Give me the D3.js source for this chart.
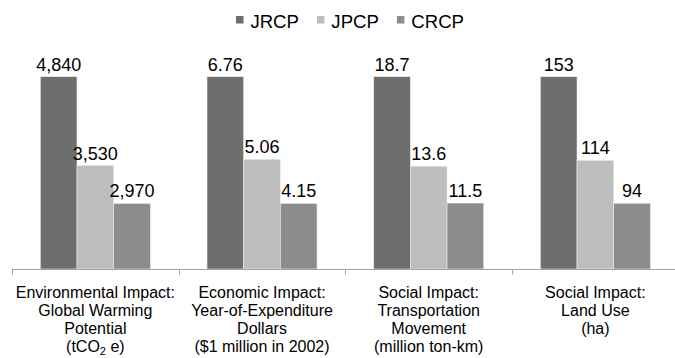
<!DOCTYPE html>
<html>
<head>
<meta charset="utf-8">
<script src="https://cdn.jsdelivr.net/npm/d3@7"></script>
<style>
  html, body { margin: 0; padding: 0; background: #ffffff; }
  svg { display: block; font-family: "Liberation Sans", Arial, Helvetica, sans-serif; }
</style>
</head>
<body>
<svg id="chart" width="675" height="358"></svg>
<script>
// Impact categories, each label split into its display lines ("₂" marks a subscript 2)
const categories = [
  ["Environmental Impact:", "Global Warming", "Potential", "(tCO₂ e)"],
  ["Economic Impact:", "Year-of-Expenditure", "Dollars", "($1 million in 2002)"],
  ["Social Impact:", "Transportation", "Movement", "(million ton-km)"],
  ["Social Impact:", "Land Use", "(ha)"]
];
const seriesNames = ["JRCP", "JPCP", "CRCP"];
const jrcp = [4840, 6.76, 18.7, 153];
const jpcp = [3530, 5.06, 13.6, 114];
const crcp = [2970, 4.15, 11.5, 94];
const valueFormats = [",.0f", ".2f", ".1f", ".0f"];
const seriesColors = ["#6e6e6e", "#bdbdbd", "#8c8c8c"];

const seriesValues = [jrcp, jpcp, crcp];
const W = 675, H = 358;
const plot = { left: 12, right: 678.7, top: 76.7, bottom: 269 };

const svg = d3.select("#chart");

// Each category has its own unit, so bars are compared relative to the category's largest value
const groups = categories.map((lines, i) => {
  const vals = seriesValues.map(s => s[i]);
  const max = d3.max(vals);
  return {
    key: "c" + i,
    lines,
    fmt: d3.format(valueFormats[i]),
    bars: seriesNames.map((name, j) => ({ name, value: vals[j], rel: vals[j] / max }))
  };
});

const keys = groups.map(g => g.key);

// Category slots between tick marks
const xSlot = d3.scaleBand().domain(keys).range([plot.left, plot.right]).padding(0);
// Bar cluster inside each slot
const x0 = d3.scaleBand().domain(keys).range([plot.left, plot.right])
  .paddingInner(0.34).paddingOuter(0.17);
const x1 = d3.scaleBand().domain(seriesNames).range([0, x0.bandwidth()]).padding(0);
const y = d3.scaleLinear().domain([0.414, 1]).range([plot.bottom, plot.top]);
const color = d3.scaleOrdinal().domain(seriesNames).range(seriesColors);

// Bars
const g = svg.selectAll("g.group").data(groups).join("g")
  .attr("class", "group")
  .attr("transform", d => `translate(${x0(d.key)},0)`);

g.selectAll("rect").data(d => d.bars).join("rect")
  .attr("x", d => x1(d.name))
  .attr("y", d => y(d.rel))
  .attr("width", x1.bandwidth())
  .attr("height", d => y.range()[0] - y(d.rel))
  .attr("fill", d => color(d.name))
  .attr("stroke", "#ececec")
  .attr("stroke-width", 0.6);

// Value labels above bars
g.each(function (gd) {
  d3.select(this).selectAll("text.val").data(gd.bars).join("text")
    .attr("class", "val")
    .attr("x", d => x1(d.name) + x1.bandwidth() / 2)
    .attr("y", d => y(d.rel) - 6)
    .attr("text-anchor", "middle")
    .attr("font-size", 18)
    .attr("fill", "#000")
    .text(d => gd.fmt(d.value));
});

// Category axis: baseline with ticks between categories
const axis = svg.append("g").attr("class", "x-axis");
axis.append("line")
  .attr("x1", plot.left).attr("x2", plot.right)
  .attr("y1", plot.bottom + 0.5).attr("y2", plot.bottom + 0.5)
  .attr("stroke", "#a3a3a3").attr("stroke-width", 1);
const tickPos = keys.map(k => xSlot(k)).concat([plot.right]);
axis.selectAll("line.tick").data(tickPos).join("line")
  .attr("class", "tick")
  .attr("x1", d => Math.round(d) + 0.5).attr("x2", d => Math.round(d) + 0.5)
  .attr("y1", plot.bottom).attr("y2", plot.bottom + 5.5)
  .attr("stroke", "#a3a3a3").attr("stroke-width", 1);

// Multi-line category labels
const lineStart = 298.3, lineStep = 17.8;
axis.selectAll("text.cat").data(groups).join("text")
  .attr("class", "cat")
  .attr("text-anchor", "middle")
  .attr("font-size", 16)
  .attr("fill", "#000")
  .each(function (d) {
    const t = d3.select(this);
    const cx = xSlot(d.key) + xSlot.bandwidth() / 2;
    d.lines.forEach((ln, i) => {
      const parts = ln.split("₂");
      const first = t.append("tspan").attr("x", cx).attr("y", lineStart + i * lineStep).text(parts[0]);
      if (parts.length > 1) {
        t.append("tspan").attr("font-size", 11).attr("dy", 3).text("2");
        t.append("tspan").attr("dy", -3).text(parts[1]);
      }
    });
  });

// Legend
const legend = svg.append("g").attr("class", "legend");
const items = legend.selectAll("g").data(seriesNames).join("g");
items.append("rect")
  .attr("width", 7.5).attr("height", 7.5)
  .attr("y", 16)
  .attr("fill", d => color(d));
items.append("text")
  .attr("x", 14.4)
  .attr("y", 28.3)
  .attr("font-size", 18.6)
  .attr("fill", "#000")
  .text(d => d);
let cursor = 0;
const itemGap = 18;
items.each(function () {
  const node = d3.select(this);
  node.attr("data-x", cursor);
  const w = 14.4 + node.select("text").node().getComputedTextLength();
  node.attr("transform", `translate(${cursor},0)`);
  cursor += w + itemGap;
});
const legendWidth = cursor - itemGap;
legend.attr("transform", `translate(${350 - legendWidth / 2},0)`);
</script>
</body>
</html>
